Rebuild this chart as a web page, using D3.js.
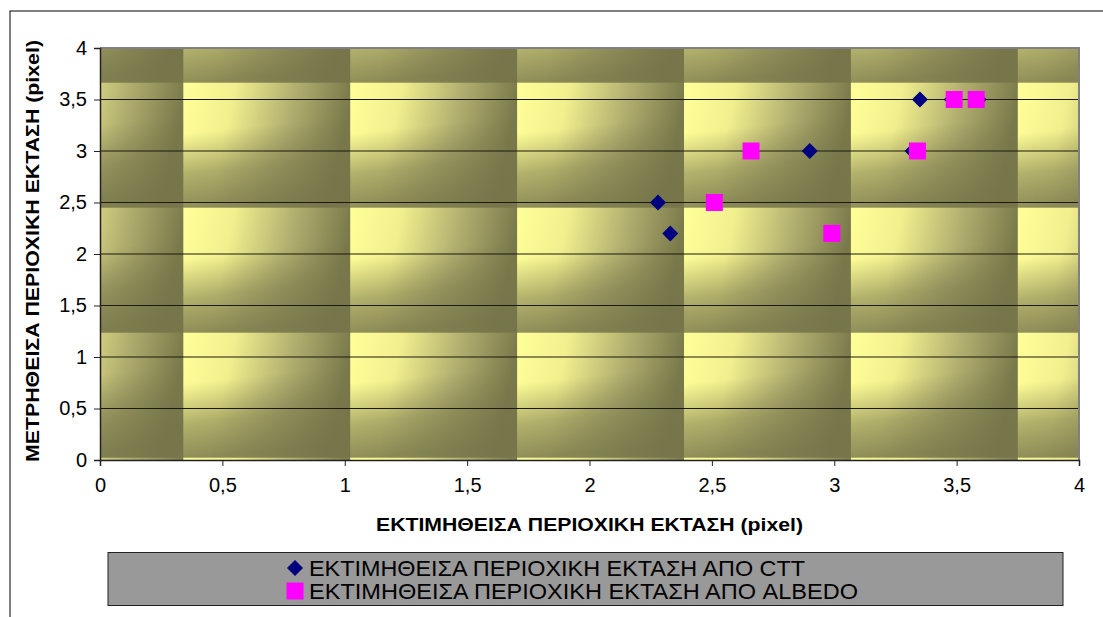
<!DOCTYPE html>
<html><head><meta charset="utf-8">
<script src="https://cdn.jsdelivr.net/npm/d3@7"></script>
<style>body{margin:0;background:#fff}svg{display:block}text{font-family:"Liberation Sans",Arial,sans-serif}</style>
</head><body><svg id="c" width="1103" height="617"></svg>
<script>
const cttX = [2.28, 2.33, 2.90, 3.32, 3.35, 3.48, 3.59];
const cttY = [2.5, 2.2, 3.0, 3.0, 3.5, 3.5, 3.5];
const albX = [2.51, 2.99, 2.66, 3.34, 3.49, 3.58];
const albY = [2.5, 2.2, 3.0, 3.0, 3.5, 3.5];
const tickVals = [0, 0.5, 1, 1.5, 2, 2.5, 3, 3.5, 4];
const tickLabels = ["0", "0,5", "1", "1,5", "2", "2,5", "3", "3,5", "4"];
const seriesNames = ["ΕΚΤΙΜΗΘΕΙΣΑ ΠΕΡΙΟΧΙΚΗ ΕΚΤΑΣΗ ΑΠΟ CTT", "ΕΚΤΙΜΗΘΕΙΣΑ ΠΕΡΙΟΧΙΚΗ ΕΚΤΑΣΗ ΑΠΟ ALBEDO"];
const xTitle = "ΕΚΤΙΜΗΘΕΙΣΑ ΠΕΡΙΟΧΙΚΗ ΕΚΤΑΣΗ (pixel)";
const yTitle = "ΜΕΤΡΗΘΕΙΣΑ ΠΕΡΙΟΧΙΚΗ ΕΚΤΑΣΗ (pixel)";

const svg = d3.select("#c");
const L = 100, R = 1079, T = 48, B = 460;
const x = d3.scaleLinear().domain([0, 4]).range([L, R]);
const y = d3.scaleLinear().domain([0, 4]).range([B, T]);

// outer chart border
svg.append("rect").attr("x", 10).attr("y", 11).attr("width", 1200).attr("height", 700)
  .attr("fill", "#fff").attr("stroke", "#000").attr("stroke-width", 1);

// pattern tile
const defs = svg.append("defs");
const gH = defs.append("linearGradient").attr("id", "gh").attr("x1", 0).attr("x2", 1).attr("y1", 0).attr("y2", 0.15);
[[0, "#FFFF99"], [0.3, "#F2F08E"], [0.65, "#B3B170"], [1, "#7A794B"]].forEach(s => gH.append("stop").attr("offset", s[0]).attr("stop-color", s[1]));
const gV = defs.append("linearGradient").attr("id", "gv").attr("x1", 0).attr("x2", 0.15).attr("y1", 0).attr("y2", 1);
[[0, 0], [0.4, 0], [0.72, 0.55], [1, 0.82]].forEach(s => gV.append("stop").attr("offset", s[0]).attr("stop-color", "#76754A").attr("stop-opacity", s[1]));
const tw = 166.9, th = 125;
const pat = defs.append("pattern").attr("id", "tile").attr("patternUnits", "userSpaceOnUse")
  .attr("x", 183.3 - tw).attr("y", 82.7 - th).attr("width", tw).attr("height", th);
pat.append("rect").attr("width", tw).attr("height", th).attr("fill", "url(#gh)");
pat.append("rect").attr("width", tw).attr("height", th).attr("fill", "url(#gv)");

svg.append("rect").attr("x", L).attr("y", T).attr("width", R - L).attr("height", B - T).attr("fill", "url(#tile)");

// gridlines
svg.append("g").selectAll("line").data(tickVals.filter(v => v > 0 && v < 4)).join("line")
  .attr("x1", L).attr("x2", R).attr("y1", d => y(d)).attr("y2", d => y(d))
  .attr("stroke", "#1a1a10").attr("stroke-width", 1.2);

// plot border top/right
svg.append("path").attr("d", `M${L},${T}H${R}V${B}`).attr("fill", "none").attr("stroke", "#808080").attr("stroke-width", 2);

// axes
const fmt = d => tickLabels[tickVals.indexOf(d)];
const xAxis = svg.append("g").attr("transform", `translate(0,${B})`)
  .call(d3.axisBottom(x).tickValues(tickVals).tickFormat(fmt).tickSize(6).tickPadding(12));
const yAxis = svg.append("g").attr("transform", `translate(${L},0)`)
  .call(d3.axisLeft(y).tickValues(tickVals).tickFormat(fmt).tickSize(6).tickPadding(7));
[xAxis, yAxis].forEach(a => {
  a.select(".domain").attr("stroke", "#222").attr("stroke-width", 1.5);
  a.selectAll(".tick line").attr("stroke", "#222");
  a.selectAll("text").attr("font-size", 20).attr("fill", "#000").attr("font-family", "Liberation Sans, Arial, sans-serif");
});

// axis titles
svg.append("text").attr("x", (L + R) / 2).attr("y", 531).attr("text-anchor", "middle")
  .attr("font-size", 18.5).attr("font-weight", "bold").attr("textLength", 427).attr("lengthAdjust", "spacingAndGlyphs").text(xTitle);
svg.append("text").attr("transform", `translate(39,251) rotate(-90)`).attr("text-anchor", "middle")
  .attr("font-size", 18.5).attr("font-weight", "bold").attr("textLength", 422).attr("lengthAdjust", "spacingAndGlyphs").text(yTitle);

// markers
const diamond = "M0,-8L8,0L0,8L-8,0Z";
const square = "M-8.5,-8.5H8.5V8.5H-8.5Z";
svg.append("g").selectAll("path").data(cttX.map((v, i) => [v, cttY[i]])).join("path")
  .attr("d", diamond).attr("transform", d => `translate(${x(d[0])},${y(d[1])})`).attr("fill", "#000080");
svg.append("g").selectAll("path").data(albX.map((v, i) => [v, albY[i]])).join("path")
  .attr("d", square).attr("transform", d => `translate(${x(d[0])},${y(d[1])})`).attr("fill", "#FF00FF");

// legend
svg.append("rect").attr("x", 108).attr("y", 552.5).attr("width", 955).attr("height", 53)
  .attr("fill", "#999999").attr("stroke", "#222").attr("stroke-width", 1);
const lg = svg.append("g");
lg.append("path").attr("d", diamond).attr("transform", "translate(295,568)").attr("fill", "#000080");
lg.append("path").attr("d", square).attr("transform", "translate(295,591)").attr("fill", "#FF00FF");
lg.append("text").attr("x", 309).attr("y", 576).attr("font-size", 22).attr("textLength", 496).attr("lengthAdjust", "spacingAndGlyphs").text(seriesNames[0]);
lg.append("text").attr("x", 309).attr("y", 599).attr("font-size", 22).attr("textLength", 549).attr("lengthAdjust", "spacingAndGlyphs").text(seriesNames[1]);
</script></body></html>
